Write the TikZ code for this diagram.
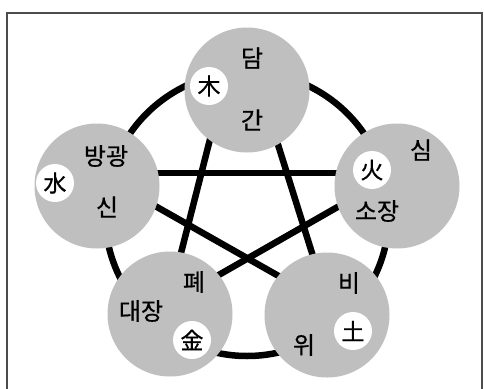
\documentclass[tikz,border=0pt]{standalone}
\usepackage{fontspec}
\newfontfamily\kr[FakeBold=0.6]{Noto Sans CJK KR}
\begin{document}
\begin{tikzpicture}[x=1pt,y=-1pt,
  organ/.style={circle,fill=lightgray,minimum size=125pt,inner sep=0pt},
  elem/.style={circle,fill=white,minimum size=38pt,inner sep=0pt,font=\kr\fontsize{23pt}{23pt}\selectfont},
  lbl/.style={inner sep=0pt,font=\kr\fontsize{24pt}{24pt}\selectfont},
  link/.style={line width=6.5pt,black}]
\useasboundingbox (0,0) rectangle (484,388);
\clip (0,0) rectangle (484,388);
\fill[white] (0,0) rectangle (484,388);
\draw[line width=1.2pt,color=black!70] (7,13) rectangle (482,420);
% ring
\coordinate (ringc) at (247,214);
\draw[link] (ringc) circle[radius=142pt];
% star endpoints
\coordinate (pL) at (97,173);
\coordinate (pR) at (397,173);
\coordinate (pBL) at (168,304);
\coordinate (pBR) at (328,304);
\coordinate (pTa) at (220,100);
\coordinate (pTb) at (264,100);
\draw[link] (pL) -- (pR);
\draw[link] (pL) -- (pBR);
\draw[link] (pR) -- (pBL);
\draw[link] (pTa) -- (pBL);
\draw[link] (pTb) -- (pBR);
% organ circles
\node[organ] (T) at (247,90) {};
\node[organ] (R) at (397,186) {};
\node[organ] (L) at (97,186) {};
\node[organ] (BL) at (170,314) {};
\node[organ] (BR) at (327,315) {};
% element circles
\node[elem] (wood) at (209,86) {木};
\node[elem] (fire) at (372,170) {火};
\node[elem] (water) at (55,183) {水};
\node[elem] (metal) at (192,340) {金};
\node[elem] (earth) at (353,331) {土};
% labels
\node[lbl] (tA) at (252,58) {담};
\node[lbl] (tB) at (252,120) {간};
\node[lbl] (rA) at (421,150) {심};
\node[lbl] (rB) at (377,211) {소장};
\node[lbl] (lA) at (106,156) {방광};
\node[lbl] (lB) at (107,207) {신};
\node[lbl] (blA) at (194,282) {폐};
\node[lbl] (blB) at (141,311) {대장};
\node[lbl] (brA) at (349,283) {비};
\node[lbl] (brB) at (304,345) {위};
\end{tikzpicture}
\end{document}
